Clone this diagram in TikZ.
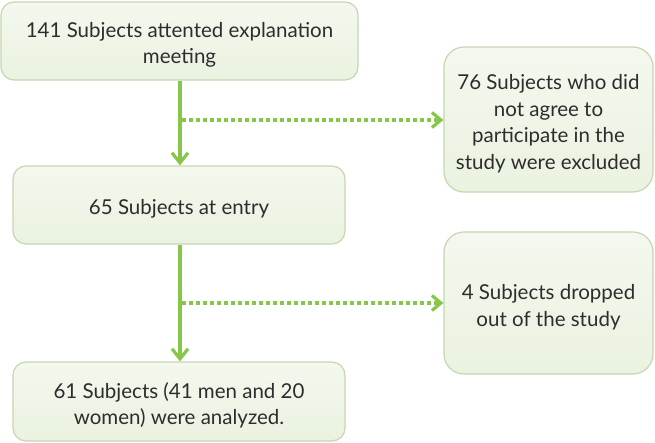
\documentclass[tikz,border=0pt]{standalone}
\usepackage{fontspec}
\setmainfont{Lato}
\usetikzlibrary{arrows.meta}
\definecolor{arrowgreen}{RGB}{134,198,72}
\definecolor{boxfill}{RGB}{234,242,224}
\definecolor{boxtop}{RGB}{244,248,238}
\definecolor{boxline}{RGB}{198,214,178}
\definecolor{txt}{RGB}{45,45,45}
\begin{document}
\begin{tikzpicture}[x=1pt,y=-1pt,
  box/.style={draw=boxline, line width=1.2pt, top color=boxtop, bottom color=boxfill,
    rounded corners=13pt, inner sep=0pt},
  rbox/.style={box, rounded corners=20pt},
  label text/.style={align=center, text=txt, inner sep=0pt, yshift=-4pt,
    font=\fontsize{20.5}{26.5}\selectfont},
  flow/.style={draw=arrowgreen, line width=3.2pt, -{Straight Barb[length=10pt,width=16pt,line width=3.2pt]}},
  excl/.style={draw=arrowgreen, line width=3.4pt, dash pattern=on 4pt off 3pt,
    -{Straight Barb[length=9pt,width=15pt,line width=3.2pt]}}]
\useasboundingbox (0,0) rectangle (655,442);
\node[box, minimum width=357pt, minimum height=78pt] (a) at (179.5,41) {};
\node[box, minimum width=332pt, minimum height=78pt] (b) at (179,205) {};
\node[box, minimum width=332pt, minimum height=79pt] (c) at (179,401.5) {};
\node[rbox, minimum width=209pt, minimum height=145pt] (d) at (548.5,119.5) {};
\node[rbox, minimum width=209pt, minimum height=142pt] (e) at (548.5,303) {};
\node[label text] (ta) at (a.center) {141 Subjects attented explanation\\meeting};
\node[label text] (tb) at (b.center) {65 Subjects at entry};
\node[label text] (tc) at (c.center) {61 Subjects (41 men and 20\\women) were analyzed.};
\node[label text] (td) at (d.center) {76 Subjects who did\\not agree to\\participate in the\\study were excluded};
\node[label text] (te) at (e.center) {4 Subjects dropped\\out of the study};
\coordinate (j1) at (180,120);
\coordinate (j2) at (180,303);
\draw[flow] (a.south -| j1) -- (b.north -| j1);
\draw[flow] (b.south -| j2) -- (c.north -| j2);
\draw[excl] ([xshift=2pt]j1) -- (d.west |- j1);
\draw[excl] ([xshift=2pt]j2) -- (e.west |- j2);
\end{tikzpicture}
\end{document}
